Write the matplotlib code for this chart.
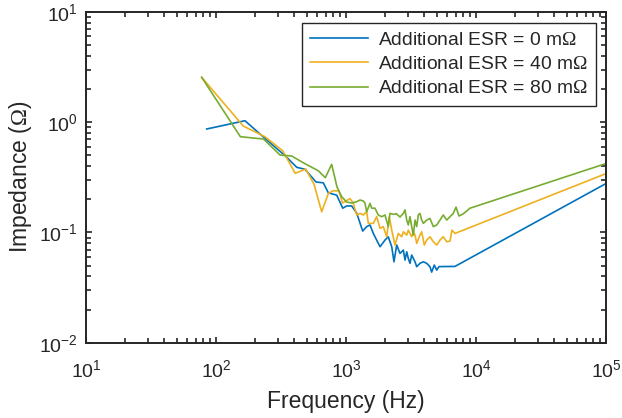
import matplotlib
matplotlib.use("Agg")
import matplotlib.pyplot as plt
from matplotlib.ticker import LogLocator, NullFormatter

plt.rcParams['font.family'] = ['Liberation Sans', 'DejaVu Sans']
plt.rcParams['mathtext.fontset'] = 'custom'
plt.rcParams['mathtext.rm'] = 'Liberation Sans'
plt.rcParams['mathtext.sf'] = 'Liberation Serif'

# ---- data ----
freq_0 = [84.8, 167, 238, 340, 418, 484, 588, 669, 731, 848, 944, 1012, 1106, 1208,
          1344, 1443, 1530, 1622, 1827, 1995, 2115, 2248, 2339, 2455, 2602, 2761,
          2844, 2931, 3014, 3106, 3201, 3396, 3499, 3707, 3935, 4178, 4426, 4560,
          4777, 4989, 5190, 6890, 100000]
imp_0 = [0.868, 1.032, 0.714, 0.497, 0.390, 0.374, 0.287, 0.282, 0.229, 0.218, 0.166,
         0.174, 0.174, 0.150, 0.103, 0.113, 0.117, 0.098, 0.0742, 0.0853, 0.0914,
         0.0742, 0.0542, 0.0769, 0.0646, 0.0692, 0.0562, 0.0668, 0.0582, 0.0525,
         0.0624, 0.0542, 0.0489, 0.0525, 0.0542, 0.0525, 0.0489, 0.0437, 0.0506,
         0.0456, 0.0490, 0.0492, 0.278]

freq_40 = [77.6, 162, 238, 326, 407, 490, 567, 650, 731, 798, 883, 940, 1012, 1074,
           1138, 1208, 1282, 1359, 1443, 1485, 1622, 1722, 1827, 1936, 2056, 2153,
           2248, 2382, 2525, 2681, 2761, 2931, 3014, 3201, 3296, 3396, 3499, 3707,
           3821, 4001, 4178, 4426, 4696, 4989, 5285, 5601, 5950, 6310, 6530, 6890,
           100000]
imp_40 = [2.555, 0.924, 0.739, 0.551, 0.344, 0.376, 0.275, 0.154, 0.226, 0.239, 0.238,
          0.185, 0.195, 0.203, 0.184, 0.144, 0.149, 0.144, 0.154, 0.121, 0.121, 0.139,
          0.109, 0.113, 0.0914, 0.139, 0.105, 0.0769, 0.098, 0.0914, 0.1015, 0.0947,
          0.105, 0.0914, 0.1015, 0.0947, 0.0796, 0.0947, 0.1015, 0.0769, 0.0853,
          0.0914, 0.0824, 0.0769, 0.0853, 0.0914, 0.0824, 0.0835, 0.105, 0.098, 0.342]

freq_80 = [77.6, 154, 232, 311, 382, 469, 612, 693, 776, 853, 927, 1012, 1106, 1208,
           1282, 1359, 1400, 1443, 1530, 1576, 1671, 1771, 1883, 1995, 2115, 2178,
           2312, 2440, 2602, 2761, 2844, 2931, 3014, 3106, 3201, 3296, 3396, 3499,
           3597, 3707, 3821, 3935, 4178, 4426, 4696, 4989, 5285, 5601, 5950, 6310,
           6688, 7020, 7400, 7943, 8990, 100000]
imp_80 = [2.555, 0.739, 0.704, 0.504, 0.494, 0.429, 0.363, 0.314, 0.415, 0.258, 0.211,
          0.189, 0.185, 0.190, 0.197, 0.193, 0.184, 0.154, 0.184, 0.166, 0.166, 0.144,
          0.139, 0.144, 0.113, 0.149, 0.146, 0.148, 0.138, 0.149, 0.160, 0.1296, 0.117,
          0.139, 0.113, 0.0947, 0.1296, 0.113, 0.144, 0.149, 0.1296, 0.121, 0.1296,
          0.134, 0.113, 0.117, 0.1296, 0.144, 0.1296, 0.139, 0.149, 0.170, 0.141,
          0.147, 0.166, 0.422]

labels = [r'Additional ESR = 0 m$\mathsf{\Omega}$',
          r'Additional ESR = 40 m$\mathsf{\Omega}$',
          r'Additional ESR = 80 m$\mathsf{\Omega}$']
colors = ['#0072BD', '#EDB120', '#77AC30']

x_label = 'Frequency (Hz)'
y_label = r'Impedance ($\mathsf{\Omega}$)'

# ---- figure ----
fig = plt.figure(figsize=(6.22, 4.18), dpi=100)
ax = fig.add_axes([86/622, 1 - 342.7/418, 520/622, 330.7/418])

for f, z, lab, c in zip([freq_0, freq_40, freq_80], [imp_0, imp_40, imp_80], labels, colors):
    ax.plot(f, z, color=c, lw=1.2, label=lab)

ax.set_xscale('log')
ax.set_yscale('log')
ax.set_xlim(10, 1e5)
ax.set_ylim(1e-2, 10)

ax.xaxis.set_major_locator(LogLocator(base=10, numticks=10))
ax.yaxis.set_major_locator(LogLocator(base=10, numticks=10))
ax.xaxis.set_minor_locator(LogLocator(base=10, subs=range(2, 10), numticks=20))
ax.yaxis.set_minor_locator(LogLocator(base=10, subs=range(2, 10), numticks=20))
ax.xaxis.set_minor_formatter(NullFormatter())
ax.yaxis.set_minor_formatter(NullFormatter())

dark = '#262626'
for s in ax.spines.values():
    s.set_linewidth(1.4)
    s.set_color(dark)
ax.tick_params(which='both', direction='in', top=True, right=True, colors=dark,
               width=1.2, labelsize=14)
ax.tick_params(which='major', length=4.5)
ax.tick_params(which='minor', length=3.5)
ax.tick_params(axis='x', which='major', pad=12)
ax.tick_params(axis='y', which='major', pad=6)

ax.set_xlabel(x_label, fontsize=16.5, color=dark, labelpad=6.5)
ax.set_ylabel(y_label, fontsize=16.5, color=dark, labelpad=3.5)

leg = ax.legend(loc='upper right', bbox_to_anchor=(0.981, 0.967), borderaxespad=0,
                fontsize=13.9, fancybox=False, framealpha=1, edgecolor=dark,
                handlelength=3.0, handletextpad=0.55, labelspacing=0.36,
                borderpad=0.42)
leg.get_frame().set_linewidth(1.0)
for t in leg.get_texts():
    t.set_color(dark)

fig.savefig('out.png', dpi=100)
